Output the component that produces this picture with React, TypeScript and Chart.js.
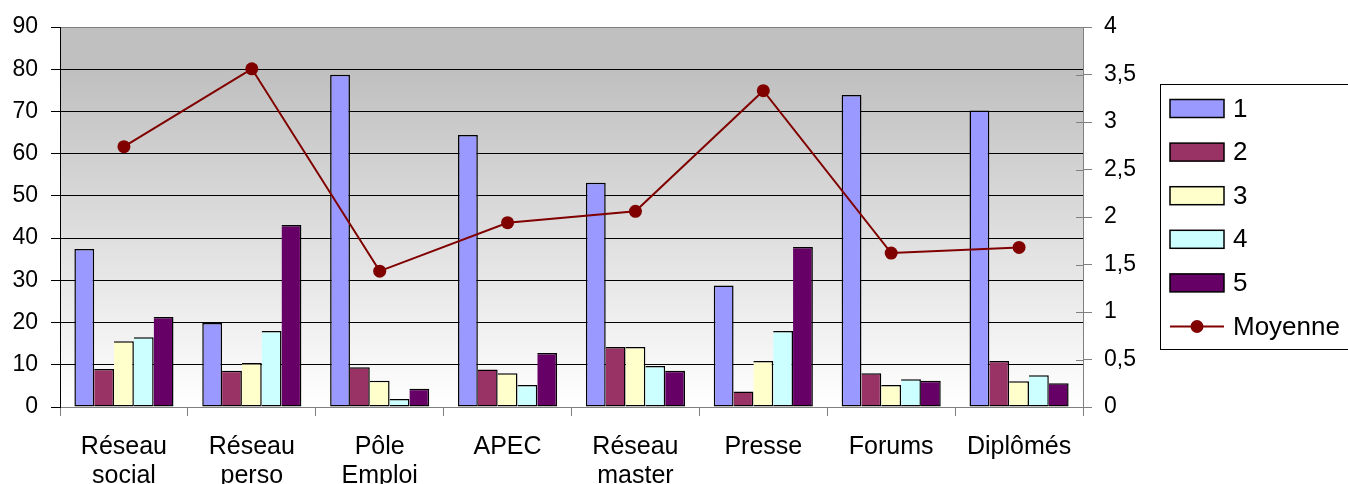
import React, { useEffect, useRef } from 'react';
import { Chart, registerables } from 'chart.js';

Chart.register(...registerables);

const categories: (string | string[])[] = [
  ['Réseau', 'social'],
  ['Réseau', 'perso'],
  ['Pôle', 'Emploi'],
  'APEC',
  ['Réseau', 'master'],
  'Presse',
  'Forums',
  'Diplômés',
];
const series1 = [37.4, 19.9, 78.7, 64.4, 53.1, 28.8, 73.9, 70.2];
const series2 = [9.0, 8.6, 9.4, 8.9, 14.2, 3.7, 8.0, 10.9];
const series3 = [15.6, 10.4, 6.2, 8.0, 14.2, 10.9, 5.2, 6.1];
const series4 = [16.5, 18.0, 1.9, 5.2, 9.7, 18.0, 6.6, 7.5];
const series5 = [21.3, 43.1, 4.3, 12.8, 8.6, 37.9, 6.2, 5.6];
const moyenne = [2.74, 3.56, 1.43, 1.94, 2.06, 3.33, 1.62, 1.68];

const seriesNames = ['1', '2', '3', '4', '5'];
const lineName = 'Moyenne';
const barColors = ['#9999FF', '#993366', '#FFFFCC', '#CCFFFF', '#660066'];
const lineColor = '#800000';

const leftTickLabels = ['0', '10', '20', '30', '40', '50', '60', '70', '80', '90'];
const rightTickLabels = ['0', '0,5', '1', '1,5', '2', '2,5', '3', '3,5', '4'];

const FONT = '"Liberation Sans", Arial, sans-serif';
const TICK_SIZE = 23;
const CAT_SIZE = 25;
const LEGEND_SIZE = 26;

const backgroundPlugin = {
  id: 'plotBackground',
  beforeDraw(chart: any) {
    const { ctx, chartArea } = chart;
    if (!chartArea) return;
    const g = ctx.createLinearGradient(0, chartArea.top, 0, chartArea.bottom);
    g.addColorStop(0, '#C0C0C0');
    g.addColorStop(0.12, '#C0C0C0');
    g.addColorStop(1, '#FFFFFF');
    ctx.save();
    ctx.fillStyle = g;
    ctx.fillRect(chartArea.left, chartArea.top, chartArea.right - chartArea.left, chartArea.bottom - chartArea.top);
    ctx.restore();
  },
};

const extrasPlugin = {
  id: 'extras',
  afterDraw(chart: any) {
    const { ctx, chartArea } = chart;
    const y1 = chart.scales.y1;
    ctx.save();
    // inner tick marks of the right axis
    ctx.strokeStyle = '#808080';
    ctx.lineWidth = 1;
    y1.ticks.forEach((t: any) => {
      const py = Math.round(y1.getPixelForValue(t.value)) + 0.5;
      ctx.beginPath();
      ctx.moveTo(chartArea.right - 7, py);
      ctx.lineTo(chartArea.right, py);
      ctx.stroke();
    });

    // legend
    const left = chartArea.right + 77;
    const top = 84;
    ctx.fillStyle = '#FFFFFF';
    ctx.fillRect(left, top, 400, 265);
    ctx.strokeStyle = '#000000';
    ctx.lineWidth = 1;
    ctx.strokeRect(left + 0.5, top + 0.5, 400, 265);
    const rowStart = top + 24.5;
    const rowGap = 43.6;
    ctx.font = `${LEGEND_SIZE}px ${FONT}`;
    ctx.textBaseline = 'middle';
    ctx.textAlign = 'left';
    chart.data.datasets.forEach((ds: any, i: number) => {
      const cy = rowStart + i * rowGap;
      const sx = left + 10;
      if (ds.type === 'line') {
        ctx.strokeStyle = ds.borderColor;
        ctx.lineWidth = 2;
        ctx.beginPath();
        ctx.moveTo(sx, cy);
        ctx.lineTo(sx + 54, cy);
        ctx.stroke();
        ctx.fillStyle = ds.pointBackgroundColor;
        ctx.beginPath();
        ctx.arc(sx + 27, cy, 6.5, 0, Math.PI * 2);
        ctx.fill();
      } else {
        ctx.fillStyle = ds.backgroundColor;
        ctx.fillRect(sx, cy - 9, 54, 18);
        ctx.strokeStyle = '#000';
        ctx.lineWidth = 1.5;
        ctx.strokeRect(sx, cy - 9, 54, 18);
      }
      ctx.fillStyle = '#000';
      ctx.fillText(ds.label, left + 73, cy + 1);
    });
    ctx.restore();
  },
};

export default function App() {
  const ref = useRef<HTMLCanvasElement | null>(null);
  useEffect(() => {
    if (!ref.current) return;
    Chart.defaults.font.family = FONT;
    Chart.defaults.font.size = TICK_SIZE;
    Chart.defaults.color = '#000';
    const barSeries = [series1, series2, series3, series4, series5];
    const datasets: any[] = barSeries.map((data, i) => ({
      type: 'bar',
      label: seriesNames[i],
      data,
      backgroundColor: barColors[i],
      borderColor: '#000000',
      borderWidth: { top: 1.5, right: 1.5, bottom: 1.5, left: i === 0 ? 1.5 : 0 },
      borderSkipped: false,
      inflateAmount: 0,
      barPercentage: 1,
      categoryPercentage: 0.775,
      yAxisID: 'y',
      order: 1,
    }));
    datasets.push({
      type: 'line',
      label: lineName,
      data: moyenne,
      borderColor: lineColor,
      borderWidth: 2,
      pointRadius: 6.5,
      pointBackgroundColor: lineColor,
      pointBorderWidth: 0,
      pointBorderColor: lineColor,
      tension: 0,
      yAxisID: 'y1',
      order: 0,
    });
    const chart = new Chart(ref.current, {
      type: 'bar',
      data: { labels: categories, datasets },
      plugins: [backgroundPlugin, extrasPlugin],
      options: {
        animation: false,
        responsive: true,
        maintainAspectRatio: false,
        layout: { padding: { top: 27, left: 0, right: 0, bottom: 0 } },
        plugins: { legend: { display: false }, tooltip: { enabled: false } },
        scales: {
          x: {
            grid: { offset: true, drawOnChartArea: false, drawTicks: true, tickLength: 9, color: '#808080' },
            border: { color: '#808080', width: 1 },
            ticks: {
              color: '#000',
              font: { size: CAT_SIZE, lineHeight: 1.16 },
              padding: 17,
              maxRotation: 0,
              autoSkip: false,
            },
            afterFit: (s: any) => { s.height = 77; },
          },
          y: {
            position: 'left',
            min: 0,
            max: 90,
            ticks: {
              stepSize: 10,
              color: '#000',
              padding: 13,
              font: { size: TICK_SIZE },
              callback: (_v: any, i: number) => leftTickLabels[i],
            },
            grid: {
              color: (c: any) => (c.tick && c.tick.value === 90 ? '#808080' : '#000000'),
              tickColor: '#000000',
              tickLength: 9,
            },
            border: { color: '#000000' },
            afterFit: (s: any) => { s.width = 60; },
          },
          y1: {
            position: 'right',
            min: 0,
            max: 4,
            ticks: {
              stepSize: 0.5,
              color: '#000',
              padding: 12,
              font: { size: TICK_SIZE },
              callback: (_v: any, i: number) => rightTickLabels[i],
            },
            grid: { drawOnChartArea: false, tickLength: 9, color: '#808080' },
            border: { color: '#808080' },
            afterFit: (s: any) => { s.width = 265; },
          },
        },
      },
    } as any);
    return () => chart.destroy();
  }, []);
  return (
    <div style={{ position: 'absolute', left: 0, top: 0, width: 1348, height: 484, background: '#fff' }}>
      <canvas ref={ref} />
    </div>
  );
}
